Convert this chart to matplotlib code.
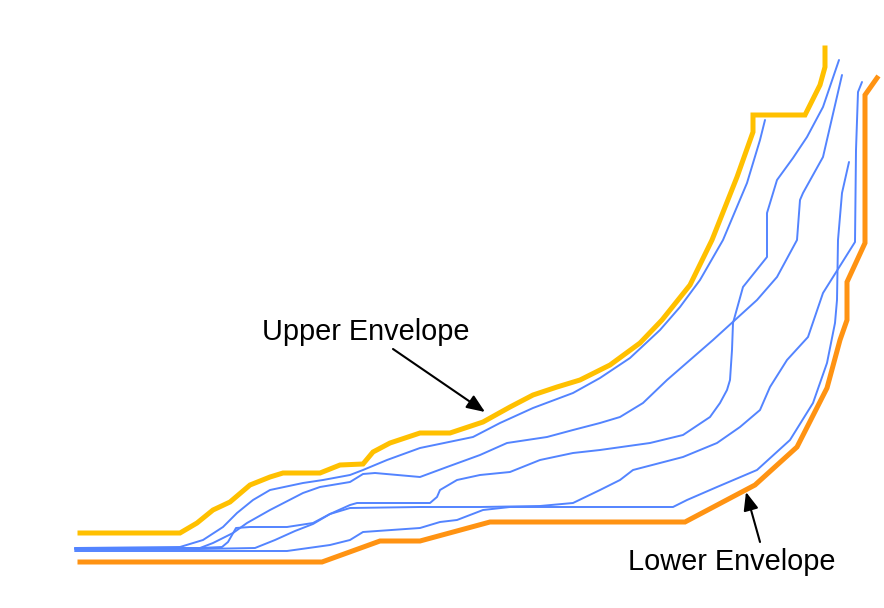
import matplotlib
matplotlib.use("Agg")
import matplotlib.pyplot as plt

# Envelope boundaries (x, y in drawing units; y grows downward)
upper_x = [80, 180, 197, 213, 230, 250, 270, 283, 320, 340, 363, 373, 390, 420, 450, 483,
           510, 533, 557, 580, 610, 640, 662, 690, 712, 737, 753, 753, 805, 820, 825, 825]
upper_y = [533, 533, 523, 510, 502, 485, 477, 473, 473, 465, 464, 452, 443, 433, 433, 422,
           407, 395, 387, 380, 365, 343, 320, 285, 240, 177, 132, 115, 115, 85, 67, 48]

lower_x = [80, 322, 380, 420, 490, 685, 755, 797, 827, 840, 847, 847, 865, 865, 877]
lower_y = [562, 562, 541, 541, 522, 522, 485, 447, 388, 340, 320, 282, 243, 95, 78]

# Individual trajectories
traj1_x = [75, 180, 203, 223, 237, 253, 270, 303, 323, 350, 363, 387, 420, 473, 500, 533,
           573, 600, 630, 660, 680, 700, 723, 747, 760, 765]
traj1_y = [548, 547, 540, 527, 513, 500, 490, 483, 480, 475, 470, 460, 448, 437, 423, 408,
           393, 378, 358, 330, 307, 280, 240, 183, 140, 120]

traj2_x = [75, 200, 213, 233, 247, 270, 303, 320, 350, 363, 375, 420, 447, 480, 507, 547,
           573, 600, 620, 643, 667, 690, 713, 757, 777, 797, 800, 803, 823, 842]
traj2_y = [549, 548, 543, 533, 523, 510, 493, 487, 482, 474, 473, 477, 467, 455, 443, 437,
           430, 423, 417, 403, 380, 360, 340, 300, 277, 240, 200, 193, 157, 75]

traj3_x = [75, 200, 222, 228, 232, 236, 250, 287, 313, 330, 350, 357, 430, 437, 440, 457,
           480, 510, 540, 573, 600, 650, 683, 710, 720, 727, 730, 732, 733, 743, 767, 767,
           777, 793, 807, 823, 839]
traj3_y = [548, 548, 547, 542, 535, 528, 527, 527, 523, 514, 505, 503, 503, 497, 490, 480,
           475, 472, 460, 453, 450, 443, 435, 417, 403, 390, 380, 350, 323, 287, 257, 213,
           180, 158, 137, 107, 60]

traj4_x = [75, 200, 255, 275, 295, 313, 330, 350, 420, 480, 540, 573, 600, 620, 633, 683,
           717, 740, 760, 770, 787, 808, 823, 855, 856, 858, 862]
traj4_y = [549, 549, 548, 540, 531, 524, 514, 508, 507, 507, 506, 503, 490, 480, 470, 457,
           443, 427, 410, 387, 360, 337, 293, 242, 150, 92, 82]

traj5_x = [75, 200, 287, 330, 350, 363, 420, 440, 457, 483, 510, 600, 673, 687, 717, 757,
           790, 813, 827, 835, 837, 838, 842, 849]
traj5_y = [551, 551, 551, 545, 540, 532, 528, 522, 520, 510, 507, 507, 507, 500, 487, 470,
           440, 403, 363, 323, 300, 240, 193, 162]

trajectories = [(traj1_x, traj1_y), (traj2_x, traj2_y), (traj3_x, traj3_y),
                (traj4_x, traj4_y), (traj5_x, traj5_y)]

labels = ["Upper Envelope", "Lower Envelope"]

fig = plt.figure(figsize=(8.84, 6.08), dpi=100)
ax = fig.add_axes([0, 0, 1, 1])
ax.set_xlim(0, 884)
ax.set_ylim(608, 0)
ax.axis("off")

for tx, ty in trajectories:
    ax.plot(tx, ty, color="#5384ff", lw=1.4, solid_joinstyle="round",
            solid_capstyle="round", zorder=2)

ax.plot(upper_x, upper_y, color="#ffc000", lw=3.6, solid_joinstyle="miter", zorder=3)
ax.plot(lower_x, lower_y, color="#ff9312", lw=3.6, solid_joinstyle="miter", zorder=3)

arrow = dict(arrowstyle="-|>,head_length=1.1,head_width=0.45", color="black", lw=1.5,
             shrinkA=0, shrinkB=0)
ax.annotate("", xy=(485, 412), xytext=(393, 349), arrowprops=arrow, zorder=4)
ax.annotate("", xy=(746, 492), xytext=(760, 542), arrowprops=arrow, zorder=4)

ax.text(262, 340, labels[0], fontsize=20.8, family="Liberation Sans",
        ha="left", va="baseline")
ax.text(628, 570, labels[1], fontsize=20.8, family="Liberation Sans",
        ha="left", va="baseline")

fig.savefig("out.png", dpi=100)
